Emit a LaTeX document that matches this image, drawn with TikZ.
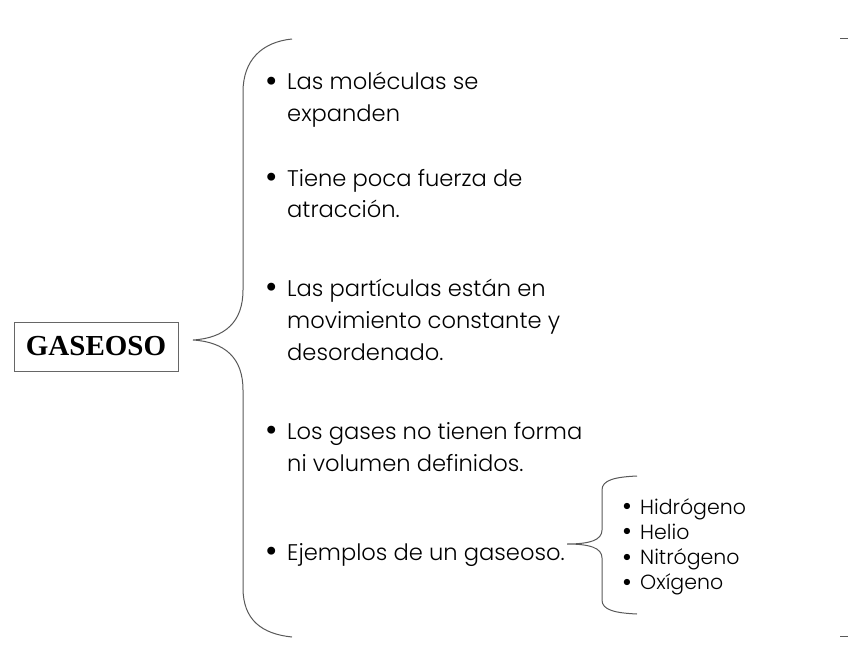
\documentclass[tikz,border=0pt]{standalone}
\usepackage{fontspec}
\setmainfont{Poppins}[UprightFont=* Light]
\newfontfamily\titlefont{Liberation Serif}
\usepackage{array}
\newcommand\bigitemfont{\fontsize{22.6}{32}\selectfont}
\newcommand\smallitemfont{\fontsize{20.5}{25.3}\selectfont}
\newcommand\bigblt{\raisebox{-2.5pt}{\fontsize{34}{34}\selectfont •}}
\newcommand\smallblt{\raisebox{-1.5pt}{\fontsize{27}{27}\selectfont •}}
\begin{document}
\begin{tikzpicture}[x=1pt,y=-1pt,
  brace/.style={draw=black!65, line width=1pt},
  item/.style={anchor=base west, inner sep=0pt, font=\bigitemfont},
  subitem/.style={anchor=base west, inner sep=0pt, font=\smallitemfont},
  titlebox/.style={draw=black!60, line width=0.8pt, minimum width=164pt, minimum height=49pt, inner sep=0pt, font=\titlefont\bfseries\fontsize{29}{30}\selectfont}]
\useasboundingbox (0,0) rectangle (848,655);

\node[titlebox] (title) at (96,346.5) {GASEOSO};

% big brace
\coordinate (btop) at (292,39);
\coordinate (btip) at (193,340);
\coordinate (bbot) at (292,637);
\draw[brace] (btop) .. controls (262,42) and (243,60) .. (243,92) -- (243,290)
  .. controls (243,322) and (225,338) .. (btip)
  .. controls (225,342) and (243,358) .. (243,390) -- (243,588)
  .. controls (243,620) and (262,634) .. (bbot);

% items
\node[item] (i1) at (265,90) {\begin{tabular}[t]{@{}p{22pt}@{}l@{}}\bigblt&Las moléculas se\\&expanden\end{tabular}};
\node[item] (i2) at (265,186) {\begin{tabular}[t]{@{}p{22pt}@{}l@{}}\bigblt&Tiene poca fuerza de\\&atracción.\end{tabular}};
\node[item] (i3) at (265,296) {\begin{tabular}[t]{@{}p{22pt}@{}l@{}}\bigblt&Las partículas están en\\&movimiento constante y\\&desordenado.\end{tabular}};
\node[item] (i4) at (265,439) {\begin{tabular}[t]{@{}p{22pt}@{}l@{}}\bigblt&Los gases no tienen forma\\&ni volumen definidos.\end{tabular}};
\node[item] (i5) at (265,560) {\begin{tabular}[t]{@{}p{22pt}@{}l@{}}\bigblt&Ejemplos de un gaseoso.\end{tabular}};

% small brace
\coordinate (stop) at (637,476);
\coordinate (stip) at (567,544);
\coordinate (sbot) at (637,614);
\draw[brace] (stop) .. controls (615,477) and (602,480) .. (602,490) -- (602,530)
  .. controls (602,540) and (590,544) .. (stip)
  .. controls (590,544) and (602,548) .. (602,558) -- (602,600)
  .. controls (602,610) and (615,613) .. (sbot);

\node[subitem] (s1) at (622,514) {\begin{tabular}[t]{@{}p{18pt}@{}l@{}}\smallblt&Hidrógeno\\\smallblt&Helio\\\smallblt&Nitrógeno\\\smallblt&Oxígeno\end{tabular}};

% right edge ticks
\coordinate (r1a) at (840,39); \coordinate (r1b) at (848,39);
\coordinate (r2a) at (840,636); \coordinate (r2b) at (848,636);
\draw[brace] (r1a) -- (r1b);
\draw[brace] (r2a) -- (r2b);
\end{tikzpicture}
\end{document}
